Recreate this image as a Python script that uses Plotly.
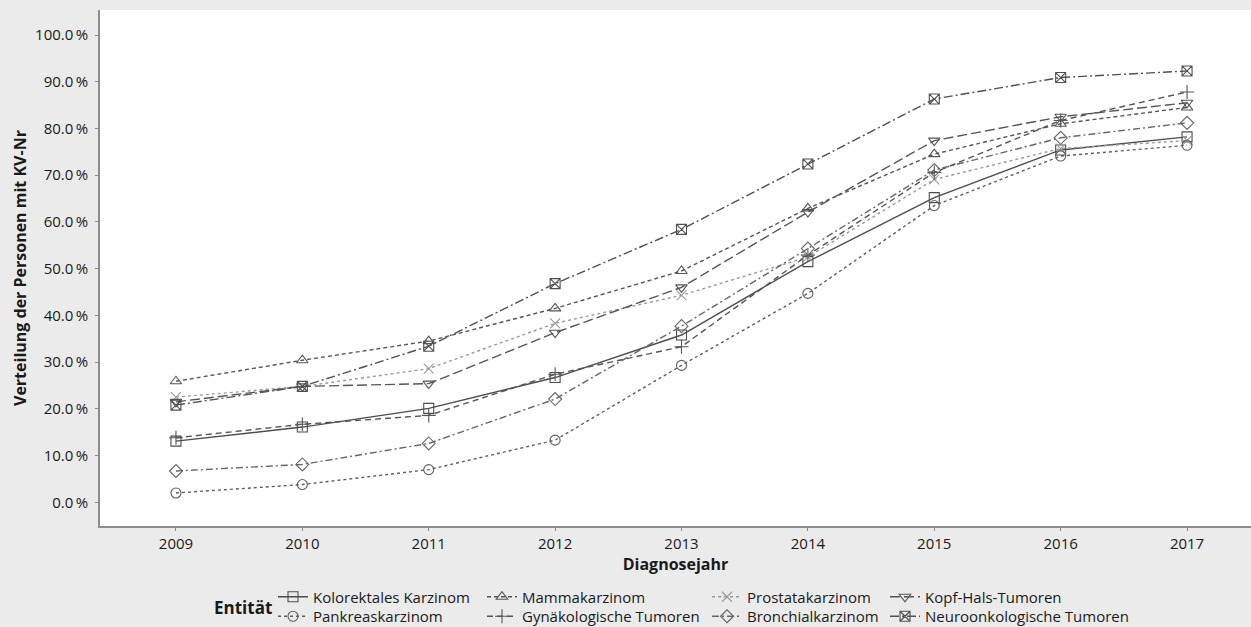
import plotly.graph_objects as go

years = [2009, 2010, 2011, 2012, 2013, 2014, 2015, 2016, 2017]

kolorektal = [13.1, 16.1, 20.1, 26.7, 35.8, 51.5, 65.2, 75.4, 78.2]
pankreas = [2.0, 3.8, 7.0, 13.3, 29.3, 44.7, 63.5, 74.1, 76.4]
mamma = [25.9, 30.4, 34.5, 41.5, 49.5, 62.9, 74.5, 81.0, 84.5]
gynaek = [13.8, 16.7, 18.6, 27.4, 33.3, 52.9, 70.6, 81.7, 87.8]
prostata = [22.5, 24.8, 28.6, 38.3, 44.3, 52.5, 69.1, 75.7, 77.4]
bronchial = [6.7, 8.1, 12.6, 22.1, 37.7, 54.3, 71.1, 78.0, 81.2]
kopfhals = [21.5, 24.8, 25.4, 36.3, 46.0, 62.1, 77.4, 82.5, 85.5]
neuro = [20.8, 24.8, 33.4, 46.8, 58.4, 72.4, 86.3, 90.9, 92.3]

y_ticks = [0, 10, 20, 30, 40, 50, 60, 70, 80, 90, 100]
y_tick_labels = [f"{v:.1f}\u2009%" for v in y_ticks]

series = [
    # name, values, dash, symbol, color, legend id
    ("Kolorektales Karzinom", kolorektal, "solid", "square-open", "#4d4d4d", "legend"),
    ("Mammakarzinom", mamma, "4px,3px", "triangle-up-open", "#555555", "legend2"),
    ("Prostatakarzinom", prostata, "dot", "x-thin-open", "#9a9a9a", "legend3"),
    ("Kopf-Hals-Tumoren", kopfhals, "10px,4px", "triangle-down-open", "#555555", "legend4"),
    ("Pankreaskarzinom", pankreas, "dot", "circle-open", "#5e5e5e", "legend5"),
    ("Gynäkologische Tumoren", gynaek, "6px,4px", "cross-thin-open", "#555555", "legend6"),
    ("Bronchialkarzinom", bronchial, "7px,3px,2px,3px", "diamond-open", "#666666", "legend7"),
    ("Neuroonkologische Tumoren", neuro, "9px,3px,2px,3px", "square-x-open", "#505050", "legend8"),
]

fig = go.Figure()
for name, vals, dash, sym, col, lg in series:
    fig.add_trace(go.Scatter(
        x=years, y=vals, name=name, mode="lines+markers",
        line=dict(color=col, width=1.4, dash=dash),
        marker=dict(symbol=sym, size=10, color=col, line=dict(color=col, width=1.1)),
        legend=lg,
    ))

W, H = 1251, 627
legend_font = dict(family="Open Sans, sans-serif", size=15, color="#1a1a1a")
col_starts = [273, 482, 707, 885]
row_y = [597, 616.5]
legend_layout = {}
ids = [s[5] for s in series]
for i, lg in enumerate(ids):
    col = i % 4
    row = i // 4
    legend_layout[lg] = dict(
        xref="container", yref="container",
        x=col_starts[col] / W, y=1 - row_y[row] / H,
        xanchor="left", yanchor="middle",
        orientation="v", bgcolor="rgba(0,0,0,0)", borderwidth=0,
        font=legend_font, itemwidth=30,
    )

fig.update_layout(
    width=W, height=H,
    margin=dict(l=100, r=0, t=10, b=101, pad=0, autoexpand=False),
    paper_bgcolor="#ebebeb", plot_bgcolor="#ffffff",
    font=dict(family="Open Sans, sans-serif", size=15, color="#1a1a1a"),
    showlegend=True,
    **legend_layout,
)

fig.update_xaxes(
    range=[2008.399, 2017.506], tickvals=years, ticktext=[str(y) for y in years],
    showgrid=False, zeroline=False, showline=True, linecolor="#8c8c8c", linewidth=1.5,
    ticks="outside", ticklen=3, tickcolor="#8c8c8c",
    tickfont=dict(size=15), automargin=True,
    title=dict(text="<b>Diagnosejahr</b>", font=dict(size=16), standoff=4),
)
fig.update_yaxes(
    range=[-5.07, 105.35], tickvals=y_ticks, ticktext=y_tick_labels,
    showgrid=False, zeroline=False, showline=True, linecolor="#8c8c8c", linewidth=1.5,
    ticks="outside", ticklen=3, tickcolor="#8c8c8c", ticklabelstandoff=4,
    tickfont=dict(size=15), automargin=True,
)

# y-axis title as a rotated annotation (placed left of the tick labels)
fig.add_annotation(
    text="<b>Verteilung der Personen mit KV-Nr</b>", xref="paper", yref="paper",
    x=(20 - 100) / 1151, y=0.5, textangle=-90,
    xanchor="center", yanchor="middle", showarrow=False,
    font=dict(family="Open Sans, sans-serif", size=16, color="#1a1a1a"),
)

fig.add_annotation(
    text="<b>Entität</b>", xref="paper", yref="paper",
    x=(243 - 100) / 1151, y=(525.7 - 607) / 515.7,
    xanchor="center", yanchor="middle", showarrow=False,
    font=dict(family="Open Sans, sans-serif", size=17, color="#1a1a1a"),
)

fig.write_html("out.html", config={"displayModeBar": False},
               post_script="document.body.style.margin='0';")
